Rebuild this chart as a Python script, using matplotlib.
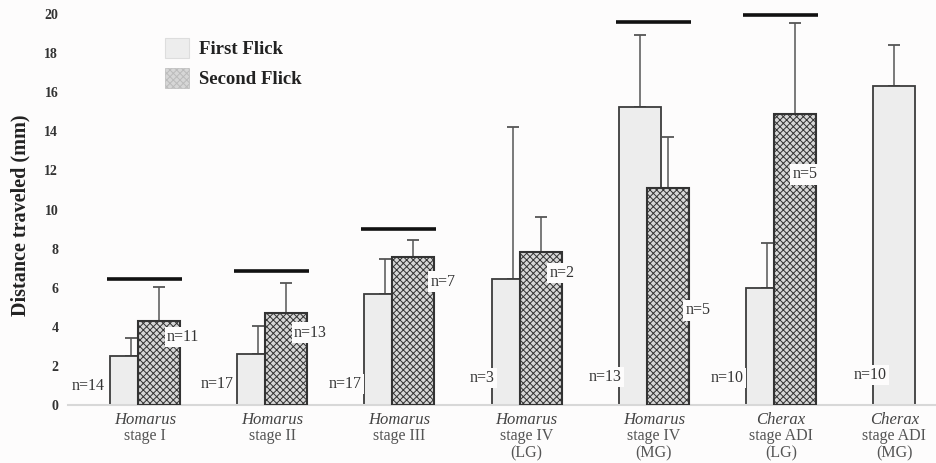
import matplotlib
matplotlib.use("Agg")
import matplotlib.pyplot as plt
import numpy as np
from matplotlib.patches import Rectangle

plt.rcParams['font.family'] = ['Liberation Serif', 'DejaVu Serif']
plt.rcParams['hatch.linewidth'] = 0.7

# ---- data ----
genus = ["Homarus", "Homarus", "Homarus", "Homarus", "Homarus", "Cherax", "Cherax"]
stage = ["stage I", "stage II", "stage III", "stage IV\n(LG)", "stage IV\n(MG)",
         "stage ADI\n(LG)", "stage ADI\n(MG)"]
first_mean = [2.5, 2.6, 5.7, 6.45, 15.25, 6.0, 16.3]
first_err = [0.93, 1.43, 1.75, 7.77, 3.68, 2.3, 2.1]
first_n = [14, 17, 17, 3, 13, 10, 10]
second_mean = [4.3, 4.7, 7.57, 7.83, 11.1, 14.9, None]
second_err = [1.74, 1.54, 0.87, 1.77, 2.6, 4.65, None]
second_n = [11, 13, 7, 2, 5, 5, None]
signif_y = [6.45, 6.85, 9.0, None, 19.6, 19.95, None]
yticks = [0, 2, 4, 6, 8, 10, 12, 14, 16, 18, 20]

# label placement (offsets from group centre, data coords)
n1_x = [-0.45, -0.43, -0.43, -0.35, -0.385, -0.425, -0.3]
n1_y = [0.97, 1.07, 1.07, 1.38, 1.43, 1.38, 1.53]
n2_x = [0.3, 0.3, 0.34, 0.28, 0.35, 0.19]
n2_y = [3.48, 3.7, 6.3, 6.75, 4.85, 11.8]

W, H = 937, 463
fig = plt.figure(figsize=(W / 100, H / 100), dpi=100)
bg = '#fdfcfc'
fig.patch.set_facecolor(bg)
L, R = 68, 937
x0px, step = 145, 127.2
ax = fig.add_axes([L / W, (H - 405) / H, (R - L) / W, (405 - 14) / H])
ax.set_facecolor('none')
ax.set_xlim((L - x0px) / step, (R - x0px) / step)
ax.set_ylim(0, 20)

bw = 0.33
off = 0.11
x = np.arange(len(genus))
edge1 = '#3c3c3c'
edge2 = '#333333'

for i in range(len(genus)):
    ax.bar(x[i] - off, first_mean[i], width=bw, color='#ededed',
           edgecolor=edge1, linewidth=1.3, zorder=2)
    ax.errorbar(x[i] - off, first_mean[i], yerr=[[0], [first_err[i]]],
                fmt='none', ecolor='#555555', elinewidth=1.1, capsize=4.5,
                capthick=1.3, zorder=1.5)
    if second_mean[i] is not None:
        ax.bar(x[i] + off, second_mean[i], width=bw, color='#d6d6d6',
               edgecolor=edge2, linewidth=1.5, hatch='xxxxx', zorder=3)
        ax.errorbar(x[i] + off, second_mean[i], yerr=[[0], [second_err[i]]],
                    fmt='none', ecolor='#555555', elinewidth=1.1, capsize=4.5,
                    capthick=1.3, zorder=2.5)
    if signif_y[i] is not None:
        ax.hlines(signif_y[i], x[i] - 0.3, x[i] + 0.29, color='#111111',
                  linewidth=2.6, zorder=4, clip_on=False)

bbox = dict(boxstyle='square,pad=0.15', facecolor=bg, edgecolor='none')
for i in range(len(genus)):
    ax.text(x[i] + n1_x[i], n1_y[i], f"n={first_n[i]}", ha='center', va='center',
            fontsize=11.5, color='#333333', bbox=bbox, zorder=5)
for i in range(len(n2_x)):
    ax.text(x[i] + n2_x[i], n2_y[i], f"n={second_n[i]}", ha='center', va='center',
            fontsize=11.5, color='#333333', bbox=bbox, zorder=5)

# axes styling
for s in ['left', 'right', 'top']:
    ax.spines[s].set_visible(False)
ax.spines['bottom'].set_color('#d8d8d8')
ax.spines['bottom'].set_linewidth(1.5)
ax.set_yticks(yticks)
ax.set_yticklabels([str(t) for t in yticks], fontsize=10, fontweight='bold',
                   color='#333333')
ax.tick_params(axis='y', length=0, pad=7)
ax.set_xticks(x)
ax.set_xticklabels([])
ax.tick_params(axis='x', length=0)

for i in range(len(genus)):
    xc = x[i] if second_mean[i] is not None else x[i] - off
    ax.text(xc, -0.35, genus[i], ha='center', va='top', fontsize=12,
            style='italic', color='#444444', linespacing=1.0)
    ax.text(xc, -1.2, stage[i], ha='center', va='top', fontsize=11.5,
            color='#555555', linespacing=1.05)

fig.text(20 / W, (H - 215) / H, "Distance traveled (mm)", rotation=90,
         ha='center', va='center', fontsize=14.5, fontweight='bold',
         color='#222222')

# legend
h1 = Rectangle((0, 0), 1, 1, facecolor='#ededed', edgecolor='#dddddd', linewidth=0.8)
h2 = Rectangle((0, 0), 1, 1, facecolor='#d6d6d6', edgecolor='#bbbbbb',
               linewidth=0.5, hatch='xxxxx')
leg = fig.legend([h1, h2], ["First Flick", "Second Flick"],
                 loc='upper left', bbox_to_anchor=(148 / W, (H - 21) / H),
                 frameon=False, prop={'size': 13.5, 'weight': 'bold'},
                 handlelength=1.3, handleheight=1.3, handletextpad=0.5,
                 labelspacing=0.5)
for t in leg.get_texts():
    t.set_color('#222222')

fig.savefig("out.png", dpi=100, facecolor=fig.get_facecolor())
